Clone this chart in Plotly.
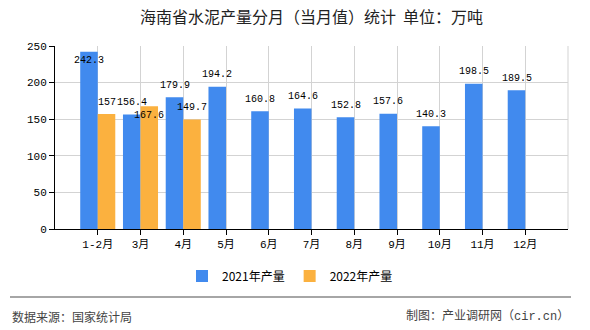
import plotly.graph_objects as go

categories = ["1-2月", "3月", "4月", "5月", "6月", "7月", "8月", "9月", "10月", "11月", "12月"]
output_2021 = [242.3, 156.4, 179.9, 194.2, 160.8, 164.6, 152.8, 157.6, 140.3, 198.5, 189.5]
output_2022 = [157, 167.6, 149.7, None, None, None, None, None, None, None, None]
series_names = ["2021年产量", "2022年产量"]
title_text = "海南省水泥产量分月（当月值）统计  单位：万吨"
source_text = "数据来源：国家统计局"
credit_text = "制图：产业调研网（cir.cn）"

BLUE = "#418AEE"
ORANGE = "#FBB13F"
MONO = "Liberation Mono, 'Noto Sans CJK SC', monospace"
CJK = "'Noto Sans CJK SC', sans-serif"

fig = go.Figure()
fig.add_trace(go.Bar(x=categories, y=output_2021, name=series_names[0],
                     marker=dict(color=BLUE, line=dict(width=0))))
fig.add_trace(go.Bar(x=categories, y=output_2022, name=series_names[1],
                     marker=dict(color=ORANGE, line=dict(width=0))))

# per-label style offsets (px) mimicking the reference's overlap avoidance
label_adjust_2021 = {0: (0, -21)}
label_adjust_2022 = {1: (0, -21)}

annotations = []
for i, (c, v) in enumerate(zip(categories, output_2021)):
    dx, dy = label_adjust_2021.get(i, (0, 0))
    annotations.append(dict(x=c, y=v, xref="x", yref="y", text=f"{v:g}", showarrow=False,
                            xshift=-8.75 + dx, yshift=12 + dy, yanchor="middle",
                            font=dict(family=MONO, size=10, color="#000")))
for i, (c, v) in enumerate(zip(categories, output_2022)):
    if v is None:
        continue
    dx, dy = label_adjust_2022.get(i, (0, 0))
    annotations.append(dict(x=c, y=v, xref="x", yref="y", text=f"{v:g}", showarrow=False,
                            xshift=8.75 + dx, yshift=12 + dy, yanchor="middle",
                            font=dict(family=MONO, size=10, color="#000")))

L, R, T, B = 55, 22, 46, 101
PW, PH = 590 - L - R, 330 - T - B
def px_x(x):
    return (x - L) / PW
def px_y(y):
    return (330 - B - y) / PH

annotations.append(dict(x=px_x(10), y=px_y(316), xref="paper", yref="paper", text=source_text,
                        showarrow=False, xanchor="left", yanchor="middle",
                        font=dict(family=CJK, size=12, color="#444")))
annotations.append(dict(x=px_x(571), y=px_y(316), xref="paper", yref="paper", text=credit_text,
                        showarrow=False, xanchor="right", yanchor="middle",
                        font=dict(family=MONO, size=12, color="#444")))

fig.update_layout(
    width=590, height=330,
    margin=dict(l=L, r=R, t=T, b=B, pad=0),
    paper_bgcolor="white", plot_bgcolor="white",
    barmode="group", bargap=0.18, bargroupgap=0,
    title=dict(text=title_text, x=0.5, xanchor="center", xref="paper",
               y=1 - 17 / 330, yanchor="middle",
               font=dict(family=CJK, size=16, color="#222")),
    legend=dict(orientation="h", x=px_x(290), xanchor="center", y=px_y(276), yanchor="middle",
                font=dict(family=CJK, size=12, color="#000"), bgcolor="rgba(0,0,0,0)",
                traceorder="normal"),
    annotations=annotations,
    showlegend=True,
    shapes=[
        dict(type="line", xref="paper", yref="paper", x0=px_x(10), x1=px_x(571),
             y0=px_y(297), y1=px_y(297), line=dict(color="#888", width=1.5)),
        dict(type="line", xref="paper", yref="paper", x0=1, x1=1, y0=0, y1=1,
             line=dict(color="#d3d3d3", width=1)),
    ],
)
fig.update_xaxes(type="category", range=[-1, len(categories)], showgrid=True, gridcolor="#d3d3d3",
                 showline=True, linecolor="#000", linewidth=1, ticks="outside", ticklen=5,
                 tickcolor="#000", tickfont=dict(family=MONO, size=11, color="#000"),
                 zeroline=False)
fig.update_yaxes(range=[0, 250], dtick=50, showgrid=True, gridcolor="#d3d3d3",
                 showline=True, linecolor="#000", linewidth=1, ticks="outside", ticklen=5,
                 tickcolor="#000", tickfont=dict(family=MONO, size=11, color="#000"),
                 zeroline=False)

fig.write_html("out.html")
